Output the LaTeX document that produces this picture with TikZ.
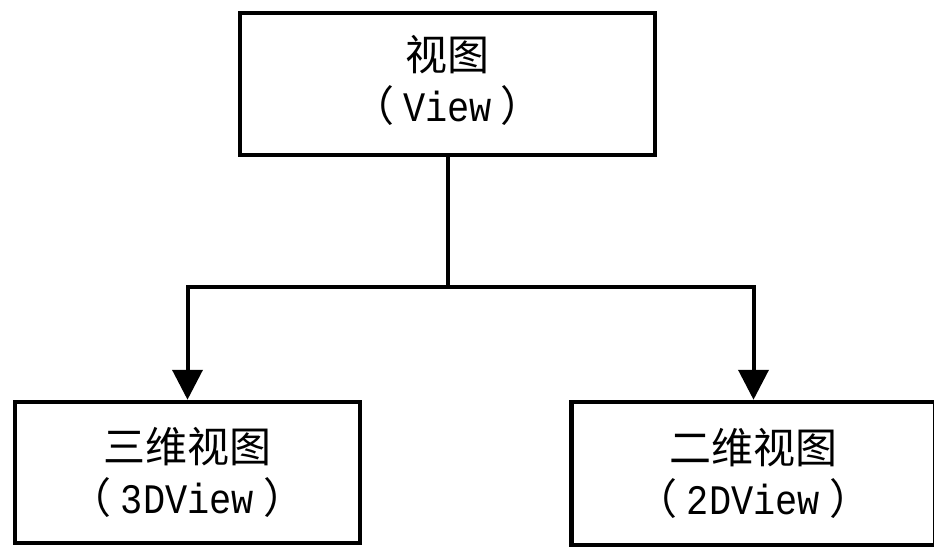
\documentclass[tikz,border=0pt]{standalone}
\usepackage{fontspec}
\newfontfamily\cjk{Noto Sans CJK SC}
\newfontfamily\lat[FakeStretch=0.88]{Liberation Mono}
\usetikzlibrary{arrows.meta}
\newcommand{\lpar}{（\hspace{9pt}}
\newcommand{\rpar}{\hspace{9pt}）}
\tikzset{
  box/.style={draw=black, line width=4.5pt, fill=white, rectangle, align=center,
    inner sep=0pt, font=\fontsize{42}{51}\selectfont\cjk},
  conn/.style={draw=black, line width=4pt},
  arr/.style={conn, -{Triangle[length=30pt,width=30pt]}}
}
\begin{document}
\begin{tikzpicture}[x=1pt,y=-1pt]
\useasboundingbox (0,0) rectangle (934,549);
\fill[white] (0,0) rectangle (934,549);
\node[box, minimum width=415pt, minimum height=142pt] (top) at (447.5,84)
  {视图\\\lpar{\lat View}\rpar\vphantom{g}};
\node[box, minimum width=345pt, minimum height=141pt] (left) at (187.5,472.5)
  {三维视图\\\lpar{\lat 3DView}\rpar};
\node[box, minimum width=364pt, minimum height=143pt] (right) at (753.5,473.5)
  {二维视图\\\lpar{\lat 2DView}\rpar};
\coordinate (j) at (447.5,287);
\draw[conn] (top.south) -- (j);
\draw[arr] (j) -| (left.north);
\draw[arr] (j) -| (right.north);
\end{tikzpicture}
\end{document}
